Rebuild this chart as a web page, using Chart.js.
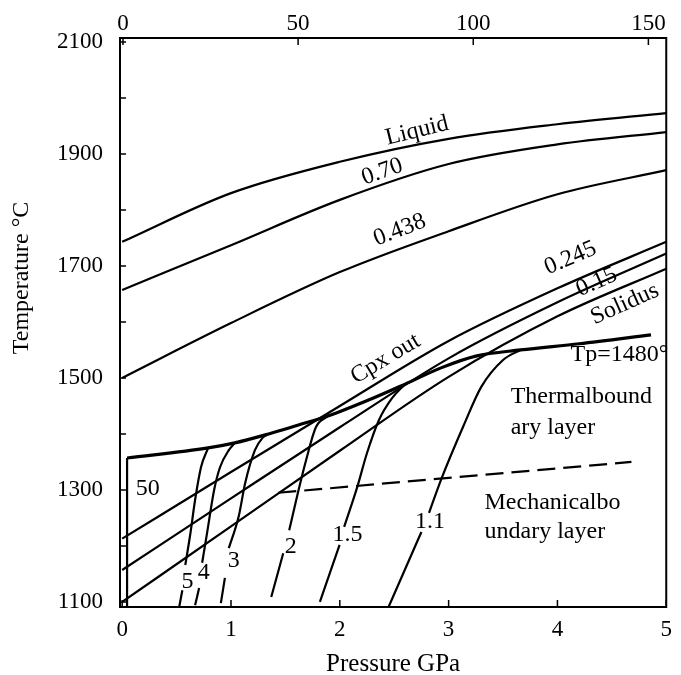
<!DOCTYPE html>
<html>
<head>
<meta charset="utf-8">
<title>Melting of stretched lithosphere</title>
<script src="https://cdn.jsdelivr.net/npm/chart.js@4.4.0/dist/chart.umd.min.js"></script>
<style>
  html, body { margin: 0; padding: 0; background: #fff; }
  #wrap { width: 681px; height: 675px; }
</style>
</head>
<body>
<div id="wrap"><canvas id="ptChart"></canvas></div>
<script>
// Pressure-temperature diagram: melt fraction contours and stretched geotherms

const pressureTicks = [0, 1, 2, 3, 4, 5]
const depthTicks = [0, 50, 100, 150]
const tempTicks = [1100, 1300, 1500, 1700, 1900, 2100]

// melt fraction isopleths, [P GPa, T C]
const liquidus = [[0,1743],[1,1830],[2,1886],[3,1927],[4,1953],[5,1973]]
const melt070 = [[0,1657],[1,1737],[2,1818],[3,1882],[4,1917],[5,1939]]
const melt0438 = [[0,1500],[1,1598],[2,1689],[3,1762],[4,1828],[5,1871]]
const melt0245 = [[0,1213],[1,1332],[2,1450],[3,1566],[4,1660],[5,1743]]
const melt015 = [[0,1157],[1,1285],[2,1412],[3,1535],[4,1635],[5,1722]]
const solidus = [[0,1100],[1,1235],[2,1370],[3,1502],[4,1610],[5,1695]]

// Tp=1480 path and the lithosphere box
const tpPath = [[0.045,1357],[0.79,1375],[1.035,1384],[1.345,1400],[1.62,1416],[1.89,1432],[2.27,1461],[2.6,1489],[2.93,1518],[3.25,1539],[3.66,1550],[4.2,1561],[4.86,1577]]
const boxEdge = [[0.045,1091],[0.045,1357]]
const mblBase = [[1.435,1295],[4.68,1350]]

// geotherms for stretching factors (null = gap for the label)
const beta5 = [[0.525,1092],[0.553,1121],null,[0.58,1166],[0.625,1220],[0.67,1282],[0.725,1341],[0.79,1375]]
const beta4 = [[0.67,1094],[0.707,1125],null,[0.735,1170],[0.78,1223],[0.845,1300],[0.9,1341],[0.98,1371],[1.035,1384]]
const beta3 = [[0.907,1098],[0.944,1143],null,[0.98,1196],[1.07,1252],[1.13,1312],[1.22,1371],[1.29,1393],[1.345,1400]]
const beta2 = [[1.37,1109],[1.48,1187],null,[1.535,1228],[1.615,1295],[1.69,1353],[1.78,1412],[1.89,1432]]
const beta15 = [[1.817,1100],[1.998,1202],null,[2.04,1234],[2.16,1305],[2.25,1366],[2.36,1425],[2.48,1464],[2.6,1489]]
const beta11 = [[2.45,1092],[2.75,1225],null,[2.82,1259],[2.93,1318],[3.14,1416],[3.3,1484],[3.5,1532],[3.66,1550]]

const curveLabels = [
  { text: 'Liquid', p: 2.71, t: 1941, angle: -14 },
  { text: '0.70', p: 2.39, t: 1868, angle: -19 },
  { text: '0.438', p: 2.55, t: 1764, angle: -21 },
  { text: 'Cpx out', p: 2.42, t: 1534, angle: -31 },
  { text: '0.245', p: 4.12, t: 1714, angle: -23 },
  { text: '0.15', p: 4.36, t: 1671, angle: -24 },
  { text: 'Solidus', p: 4.62, t: 1632, angle: -24 },
  { text: 'Tp=1480°', p: 4.12, t: 1541, angle: 0, align: 'left' },
  { text: 'Thermalbound', p: 3.57, t: 1466, angle: 0, align: 'left' },
  { text: 'ary layer', p: 3.57, t: 1411, angle: 0, align: 'left' },
  { text: 'Mechanicalbo', p: 3.33, t: 1277, angle: 0, align: 'left' },
  { text: 'undary layer', p: 3.33, t: 1225, angle: 0, align: 'left' },
  { text: '50', p: 0.235, t: 1303, angle: 0 },
  { text: '5', p: 0.6, t: 1136, angle: 0 },
  { text: '4', p: 0.75, t: 1153, angle: 0 },
  { text: '3', p: 1.025, t: 1173, angle: 0 },
  { text: '2', p: 1.55, t: 1198, angle: 0 },
  { text: '1.5', p: 2.07, t: 1220, angle: 0 },
  { text: '1.1', p: 2.83, t: 1243, angle: 0 }
]

const serif = "'Liberation Serif', 'Times New Roman', serif"

function toPoints(arr) {
  let lastX = 0
  return arr.map(p => {
    if (!p) return { x: lastX, y: null }
    lastX = p[0]
    return { x: p[0], y: p[1] }
  })
}

function curve(label, arr, opts) {
  opts = opts || {}
  return {
    label,
    data: toPoints(arr),
    borderColor: '#000',
    borderWidth: opts.width || 2.2,
    borderDash: opts.dash || [],
    pointRadius: 0,
    fill: false,
    spanGaps: false,
    tension: 0,
    cubicInterpolationMode: opts.straight ? 'default' : 'monotone'
  }
}

const framePlugin = {
  id: 'frame',
  afterDatasetsDraw(chart) {
    const { ctx, chartArea: a, scales } = chart
    const xs = scales.x, xt = scales.xTop, ys = scales.y
    ctx.save()
    ctx.strokeStyle = '#000'
    ctx.lineWidth = 2
    ctx.strokeRect(a.left, a.top, a.right - a.left, a.bottom - a.top)

    // inward tick marks
    ctx.lineWidth = 1.5
    ctx.beginPath()
    for (let t = 1100; t <= 2100; t += 100) {
      const y = ys.getPixelForValue(t)
      ctx.moveTo(a.left, y); ctx.lineTo(a.left + 6, y)
    }
    pressureTicks.forEach(p => {
      const x = xs.getPixelForValue(p)
      ctx.moveTo(x, a.bottom); ctx.lineTo(x, a.bottom - 7)
    })
    depthTicks.forEach(d => {
      const x = xt.getPixelForValue(d)
      ctx.moveTo(x, a.top); ctx.lineTo(x, a.top + 7)
    })
    ctx.stroke()

    // curve and region labels
    ctx.fillStyle = '#000'
    ctx.font = '24px ' + serif
    ctx.textBaseline = 'middle'
    curveLabels.forEach(l => {
      ctx.save()
      ctx.translate(xs.getPixelForValue(l.p), ys.getPixelForValue(l.t))
      ctx.rotate(l.angle * Math.PI / 180)
      ctx.textAlign = l.align || 'center'
      ctx.fillText(l.text, 0, 0)
      ctx.restore()
    })

    // y axis title
    ctx.save()
    ctx.font = '24px ' + serif
    ctx.textAlign = 'center'
    ctx.textBaseline = 'middle'
    ctx.translate(22, a.top + 240)
    ctx.rotate(-Math.PI / 2)
    ctx.fillText('Temperature °C', 0, 0)
    ctx.restore()

    ctx.restore()
  }
}

const tickFont = { family: serif, size: 23 }
const plainLabel = v => String(v)

// eslint-disable-next-line no-undef
new Chart(document.getElementById('ptChart'), {
  type: 'line',
  data: {
    datasets: [
      curve('Liquid', liquidus),
      curve('0.70', melt070),
      curve('0.438', melt0438),
      curve('0.245', melt0245),
      curve('0.15', melt015),
      curve('Solidus', solidus),
      curve('Tp=1480', tpPath, { width: 3.2 }),
      curve('box', boxEdge, { straight: true }),
      curve('MBL', mblBase, { dash: [18, 8], straight: true }),
      curve('5', beta5),
      curve('4', beta4),
      curve('3', beta3),
      curve('2', beta2),
      curve('1.5', beta15),
      curve('1.1', beta11)
    ]
  },
  options: {
    responsive: true,
    maintainAspectRatio: false,
    animation: false,
    layout: { padding: { left: 0, right: 9, top: 0, bottom: 0 } },
    plugins: { legend: { display: false }, tooltip: { enabled: false } },
    scales: {
      x: {
        type: 'linear',
        position: 'bottom',
        min: -0.02,
        max: 5,
        afterBuildTicks: s => { s.ticks = pressureTicks.map(v => ({ value: v })) },
        afterFit: s => { s.height = 68 },
        grid: { display: false, drawTicks: false },
        border: { display: false },
        ticks: { font: tickFont, color: '#000', padding: 9, maxRotation: 0, callback: plainLabel },
        title: { display: true, text: 'Pressure GPa', font: { family: serif, size: 25 }, color: '#000', padding: { top: 0, bottom: -4 } }
      },
      xTop: {
        type: 'linear',
        position: 'top',
        min: -0.85,
        max: 155.1,
        afterBuildTicks: s => { s.ticks = depthTicks.map(v => ({ value: v })) },
        afterFit: s => { s.height = 38 },
        grid: { display: false, drawTicks: false },
        border: { display: false },
        ticks: { font: tickFont, color: '#000', padding: 0, maxRotation: 0, callback: plainLabel }
      },
      y: {
        type: 'linear',
        min: 1091,
        max: 2107,
        afterBuildTicks: s => { s.ticks = tempTicks.map(v => ({ value: v })) },
        afterFit: s => { s.width = 120 },
        grid: { display: false, drawTicks: false },
        border: { display: false },
        ticks: { font: tickFont, color: '#000', padding: 17, callback: plainLabel }
      }
    }
  },
  plugins: [framePlugin]
})
</script>
</body>
</html>
